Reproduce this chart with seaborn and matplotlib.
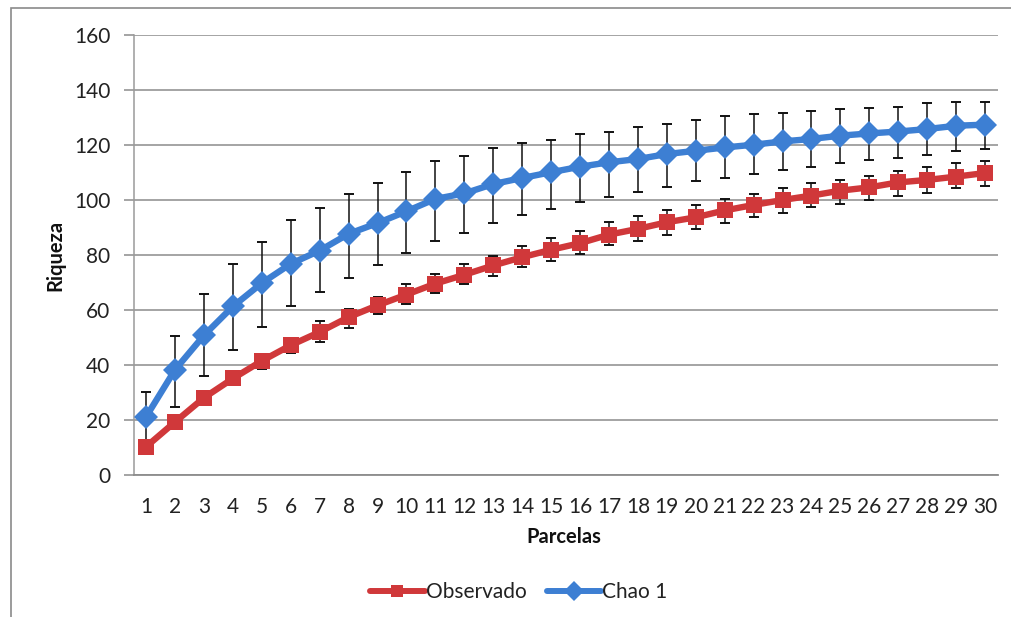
import numpy as np
import pandas as pd
import matplotlib
matplotlib.use("Agg")
import matplotlib.pyplot as plt
from matplotlib.patches import Rectangle
import seaborn as sns

# Species accumulation: observed richness and Chao 1 estimate per plot count
parcelas = list(range(1, 31))

observado = [10.3, 19.3, 28.1, 35.1, 41.5, 47.2, 52.0, 57.4, 61.7, 65.6,
             69.6, 72.8, 76.2, 79.2, 81.9, 84.3, 87.4, 89.5, 91.9, 93.7,
             96.2, 98.2, 100.0, 101.6, 103.4, 104.6, 106.4, 107.3, 108.5, 109.8]
observado_sup = [11.0, 20.5, 29.5, 37.0, 44.0, 49.5, 56.0, 60.5, 64.9, 69.6,
                 73.2, 76.8, 79.8, 83.1, 86.2, 88.6, 91.9, 94.3, 96.4, 98.3,
                 100.4, 102.2, 104.2, 106.1, 107.4, 108.9, 110.7, 111.9, 113.3, 114.3]
observado_inf = [9.5, 18.0, 26.5, 33.0, 38.7, 44.5, 48.5, 53.5, 58.5, 62.3,
                 66.2, 69.3, 72.2, 75.6, 78.0, 80.4, 83.5, 85.0, 87.4, 89.5,
                 91.5, 93.7, 95.4, 97.4, 98.6, 100.0, 101.6, 102.4, 104.4, 105.2]

chao1 = [21.2, 38.3, 50.8, 61.3, 69.8, 76.8, 81.6, 87.7, 91.6, 95.9,
         100.4, 102.4, 105.8, 108.0, 110.1, 112.1, 113.7, 114.9, 116.7, 117.9,
         119.1, 120.1, 121.3, 122.2, 123.4, 124.2, 124.9, 125.8, 127.0, 127.4]
chao1_sup = [30.2, 50.5, 65.9, 76.8, 84.7, 92.8, 97.1, 102.2, 106.1, 110.1,
             114.3, 116.1, 118.9, 120.8, 122.0, 124.0, 124.6, 126.4, 127.6, 129.1,
             130.6, 131.2, 131.6, 132.4, 133.1, 133.6, 133.9, 135.1, 135.5, 135.5]
chao1_inf = [12.2, 24.8, 35.9, 45.4, 53.8, 61.3, 66.5, 71.7, 76.2, 80.7,
             85.0, 88.1, 91.7, 94.6, 96.6, 99.1, 101.0, 103.0, 104.9, 107.0,
             108.0, 109.5, 110.9, 111.9, 113.3, 114.6, 115.3, 116.5, 117.7, 118.5]

series = ["Observado", "Chao 1"]
colores = {"Observado": "#D0383A", "Chao 1": "#3D7FD3"}
marcadores = {"Observado": "s", "Chao 1": "D"}
tamanos = {"Observado": 11.5, "Chao 1": 12.5}

df = pd.DataFrame({
    "Parcelas": parcelas * 2,
    "Riqueza": observado + chao1,
    "Serie": ["Observado"] * 30 + ["Chao 1"] * 30,
})

sns.set_theme(style="white")
plt.rcParams["font.family"] = ["Lato", "DejaVu Sans"]

fig = plt.figure(figsize=(10.12, 6.17), dpi=100)
ax = fig.add_axes([134 / 1012, 1 - 475 / 617, (998 - 134) / 1012, (475 - 35) / 617])

# Outer chart frame
fig.patches.append(Rectangle((11 / 1012, -0.05), 1.2, 1 - 8 / 617 + 0.05,
                             transform=fig.transFigure, fill=False,
                             edgecolor="#8a8a8a", linewidth=1.2, zorder=0))

sns.lineplot(data=df, x="Parcelas", y="Riqueza", hue="Serie", style="Serie",
             hue_order=series, style_order=series, palette=colores,
             markers=marcadores, dashes=False, linewidth=4.6,
             markeredgewidth=0, ax=ax, legend="auto")

handles, labels = ax.get_legend_handles_labels()
ax.get_legend().remove()

for ln in ax.lines:
    ln.set_zorder(3)
for ln, nombre in zip(ax.lines[:2], series):
    ln.set_markersize(tamanos[nombre])

# Error bars
for media, sup, inf in [(observado, observado_sup, observado_inf),
                        (chao1, chao1_sup, chao1_inf)]:
    m = np.array(media)
    err = np.vstack([m - np.array(inf), np.array(sup) - m])
    ax.errorbar(parcelas, m, yerr=err, fmt="none", ecolor="#111111",
                elinewidth=1.1, capsize=3.5, capthick=1.4, zorder=2)

ax.set_xlim(0.58, 30.45)
ax.set_ylim(0, 160)
ax.set_xticks(parcelas)
ax.set_xticklabels([str(p) for p in parcelas])
ax.set_yticks(range(0, 161, 20))

ax.yaxis.grid(True, color="#8c8c8c", linewidth=1.1)
ax.xaxis.grid(False)
ax.set_axisbelow(True)

for side in ["top", "right"]:
    ax.spines[side].set_visible(False)
ax.spines["left"].set_color("#9a9a9a")
ax.spines["left"].set_linewidth(1.1)
ax.spines["bottom"].set_color("#8c8c8c")
ax.spines["bottom"].set_linewidth(1.3)

ax.tick_params(axis="y", which="major", left=True, length=7, width=1.1,
               color="#8c8c8c", labelsize=15, labelcolor="#222222", pad=10)
ax.tick_params(axis="x", which="major", bottom=False, labelsize=15,
               labelcolor="#222222", pad=10)

ax.set_xlabel("Parcelas", fontsize=14.5, fontweight="bold", color="#111111")
ax.set_ylabel("Riqueza", fontsize=14.5, fontweight="bold", color="#111111")
ax.xaxis.set_label_coords(0.4977, -0.141)
ax.yaxis.set_label_coords(-0.0914, 0.5)
ax.xaxis.label.set_va("center")
ax.yaxis.label.set_va("center")

for h, nombre in zip(handles, labels):
    h.set_markersize(tamanos.get(nombre, 11) * 0.8)
    h.set_linewidth(4.3)
fig.legend(handles, labels, loc="center", bbox_to_anchor=(519 / 1012, 1 - 592 / 617),
           ncol=2, frameon=False, fontsize=15, handlelength=2.6,
           handletextpad=0.05, columnspacing=1.0, labelcolor="#222222")

fig.savefig("out.png", dpi=100)
